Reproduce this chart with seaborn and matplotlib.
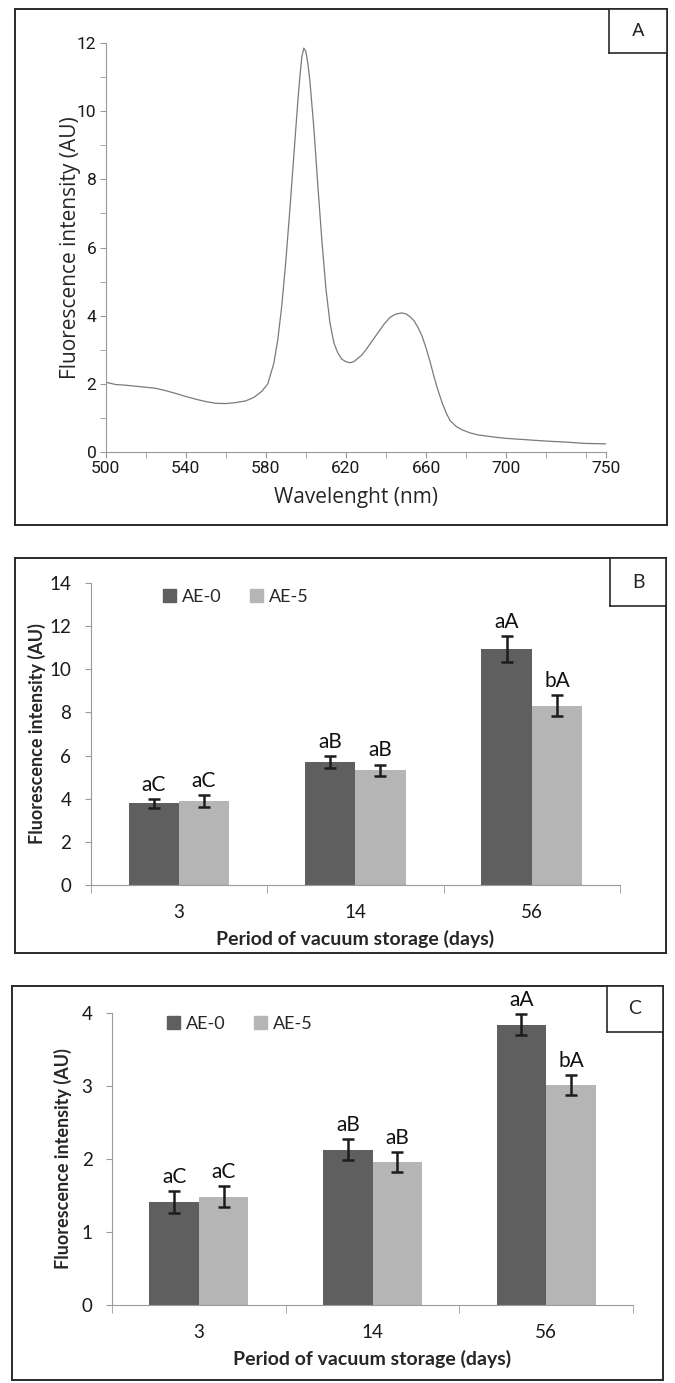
import pandas as pd
import seaborn as sns
import matplotlib.pyplot as plt
from matplotlib import font_manager
from matplotlib.ticker import MultipleLocator, FixedLocator
from matplotlib.patches import Patch

# panel A: emission spectrum
wavelength = [500, 505, 510, 515, 520, 525, 530, 535, 540, 545, 550, 555, 560, 565, 570,
              574, 578, 581, 584, 586, 588, 590, 592, 594, 596, 597, 598, 599, 600, 601,
              602, 604, 606, 608, 610, 612, 614, 616, 618, 620, 622, 624, 626, 628, 630,
              633, 636, 639, 642, 645, 648, 650, 652, 654, 656, 658, 660, 662, 664, 666,
              668, 670, 672, 675, 678, 682, 686, 690, 695, 700, 710, 720, 730, 740, 750]
intensity = [2.05, 1.98, 1.96, 1.93, 1.90, 1.87, 1.80, 1.72, 1.63, 1.55, 1.48, 1.43, 1.42, 1.45, 1.50,
             1.60, 1.78, 2.00, 2.60, 3.30, 4.30, 5.60, 7.10, 8.70, 10.3, 11.0, 11.6, 11.85, 11.75, 11.4,
             10.9, 9.50, 7.80, 6.20, 4.80, 3.80, 3.20, 2.90, 2.72, 2.65, 2.62, 2.65, 2.75, 2.85, 3.00,
             3.25, 3.50, 3.75, 3.95, 4.05, 4.08, 4.05, 3.97, 3.85, 3.65, 3.40, 3.05, 2.65, 2.20, 1.80,
             1.45, 1.15, 0.92, 0.75, 0.65, 0.56, 0.50, 0.47, 0.43, 0.40, 0.36, 0.32, 0.29, 0.25, 0.24]

days = ['3', '14', '56']
groups = ['AE-0', 'AE-5']

# panel B
b_ae0 = [3.78, 5.69, 10.94]
b_ae5 = [3.89, 5.31, 8.32]
b_ae0_err = [0.21, 0.27, 0.59]
b_ae5_err = [0.26, 0.27, 0.48]
b_ae0_lab = ['aC', 'aB', 'aA']
b_ae5_lab = ['aC', 'aB', 'bA']

# panel C
c_ae0 = [1.41, 2.13, 3.84]
c_ae5 = [1.485, 1.96, 3.01]
c_ae0_err = [0.15, 0.14, 0.14]
c_ae5_err = [0.14, 0.14, 0.14]
c_ae0_lab = ['aC', 'aB', 'aA']
c_ae5_lab = ['aC', 'aB', 'bA']

dark, light = '#5f5f5f', '#b5b5b5'
axcol = '#9a9a9a'

sns.set_style('white')
plt.rcParams['font.family'] = ['Lato', 'DejaVu Sans']

# narrow font for the spectrum ticks if there is one
try:
    font_manager.findfont('Liberation Sans Narrow', fallback_to_default=False)
    narrow = ['Liberation Sans Narrow']
    narrow_size = 14
except ValueError:
    narrow = ['Roboto', 'Liberation Sans']
    narrow_size = 12.5

W, H = 675, 1383
fig = plt.figure(figsize=(W / 100, H / 100), dpi=100)


def rect(x0, y0, x1, y1):
    return [x0 / W, 1 - y1 / H, (x1 - x0) / W, (y1 - y0) / H]


def frame(x0, y0, x1, y1, lx0, ly1, letter, family):
    fr = fig.add_axes(rect(x0, y0, x1, y1), zorder=0)
    fr.set_xticks([])
    fr.set_yticks([])
    for s in fr.spines.values():
        s.set_color('#2a2a2a')
        s.set_linewidth(1.4)
    lb = fig.add_axes(rect(lx0, y0, x1, ly1), zorder=5)
    lb.set_xticks([])
    lb.set_yticks([])
    for s in lb.spines.values():
        s.set_color('#2a2a2a')
        s.set_linewidth(1.2)
    lb.text(0.5, 0.5, letter, ha='center', va='center', fontsize=14, family=family)


# ---------- A ----------
frame(15, 9, 667, 525, 609, 53, 'A', narrow)
ax = fig.add_axes(rect(105.5, 43, 606.4, 452), zorder=2)
ax.patch.set_alpha(0)
sns.lineplot(x=wavelength, y=intensity, ax=ax, color='#7a7a7a', linewidth=0.9)
ax.set_xlim(500, 750)
ax.set_ylim(0, 12)
ax.xaxis.set_major_locator(FixedLocator([500, 540, 580, 620, 660, 700, 750]))
ax.xaxis.set_minor_locator(MultipleLocator(20))
ax.yaxis.set_major_locator(MultipleLocator(2))
ax.yaxis.set_minor_locator(MultipleLocator(1))
ax.tick_params(which='both', direction='out', color=axcol, left=True, bottom=True)
ax.tick_params(which='major', length=4, labelsize=narrow_size, pad=2.5, labelcolor='#1a1a1a')
ax.tick_params(which='minor', length=4)
for t in ax.get_xticklabels() + ax.get_yticklabels():
    t.set_family(narrow)
for s in ['top', 'right']:
    ax.spines[s].set_visible(False)
for s in ['left', 'bottom']:
    ax.spines[s].set_color(axcol)
ax.set_xlabel('Wavelenght (nm)', fontsize=15, family=['Open Sans'], labelpad=8)
ax.set_ylabel('Fluorescence intensity (AU)', fontsize=15, family=['Open Sans'])
ax.yaxis.set_label_coords((81 - 105.5) / 501, 0.5)


# ---------- B and C ----------
def bar_panel(r, ae0, ae5, e0, e5, l0, l5, ymax, ystep, leg_xy, ylab_x):
    ax = fig.add_axes(rect(*r), zorder=2)
    ax.patch.set_alpha(0)
    df = pd.DataFrame({'day': days * 2,
                       'group': [groups[0]] * 3 + [groups[1]] * 3,
                       'value': ae0 + ae5})
    sns.barplot(data=df, x='day', y='value', hue='group', order=days, hue_order=groups,
                palette=[dark, light], width=0.57, errorbar=None, saturation=1,
                linewidth=0, ax=ax)
    for cont, err, labs in zip(ax.containers, [e0, e5], [l0, l5]):
        xs = [p.get_x() + p.get_width() / 2 for p in cont]
        hs = [p.get_height() for p in cont]
        ax.errorbar(xs, hs, yerr=err, fmt='none', ecolor='#1c1c1c', elinewidth=1.8,
                    capsize=4, capthick=1.8, zorder=4)
        for x, h, e, t in zip(xs, hs, err, labs):
            ax.annotate(t, (x, h + e), xytext=(0, 3), textcoords='offset points',
                        ha='center', va='bottom', fontsize=15, color='#111111')
    ax.set_xlim(-0.5, 2.5)
    ax.set_ylim(0, ymax)
    ax.yaxis.set_major_locator(MultipleLocator(ystep))
    ax.set_xticks([0, 1, 2])
    ax.set_xticklabels(days)
    ax.set_xticks([-0.5, 0.5, 1.5, 2.5], minor=True)
    ax.tick_params(axis='x', which='major', length=0, pad=14, labelsize=13.5, labelcolor='#1a1a1a')
    ax.tick_params(axis='x', which='minor', length=6, direction='out', color=axcol, bottom=True)
    ax.tick_params(axis='y', length=4, direction='out', color=axcol, left=True, labelsize=13.5,
                   pad=10, labelcolor='#1a1a1a')
    for s in ['top', 'right']:
        ax.spines[s].set_visible(False)
    for s in ['left', 'bottom']:
        ax.spines[s].set_color(axcol)
    ax.set_xlabel('Period of vacuum storage (days)', fontsize=14, fontweight='bold', labelpad=6)
    ax.set_ylabel('Fluorescence intensity (AU)', fontsize=13, fontweight='bold')
    ax.yaxis.set_label_coords(ylab_x, 0.5)
    handles = [Patch(color=dark), Patch(color=light)]
    ax.legend(handles, groups, loc='center left', bbox_to_anchor=leg_xy, ncol=2,
              frameon=False, handlelength=0.72, handleheight=0.72, handletextpad=0.33,
              columnspacing=1.6, fontsize=13, borderpad=0, borderaxespad=0)
    return ax


frame(15, 558, 666, 953, 610, 606, 'B', ['Lato'])
bar_panel((90.7, 583, 620, 885), b_ae0, b_ae5, b_ae0_err, b_ae5_err, b_ae0_lab, b_ae5_lab,
          14, 2, ((163 - 90.7) / 529.3, (885 - 597) / 302), (46 - 90.7) / 529.3)

frame(12, 986, 663, 1380, 607, 1032, 'C', ['Lato'])
bar_panel((112, 1013, 633, 1305), c_ae0, c_ae5, c_ae0_err, c_ae5_err, c_ae0_lab, c_ae5_lab,
          4, 1, ((167 - 112) / 521, (1305 - 1024) / 292), (72 - 112) / 521)

fig.savefig('out.png', dpi=100, facecolor='white')
